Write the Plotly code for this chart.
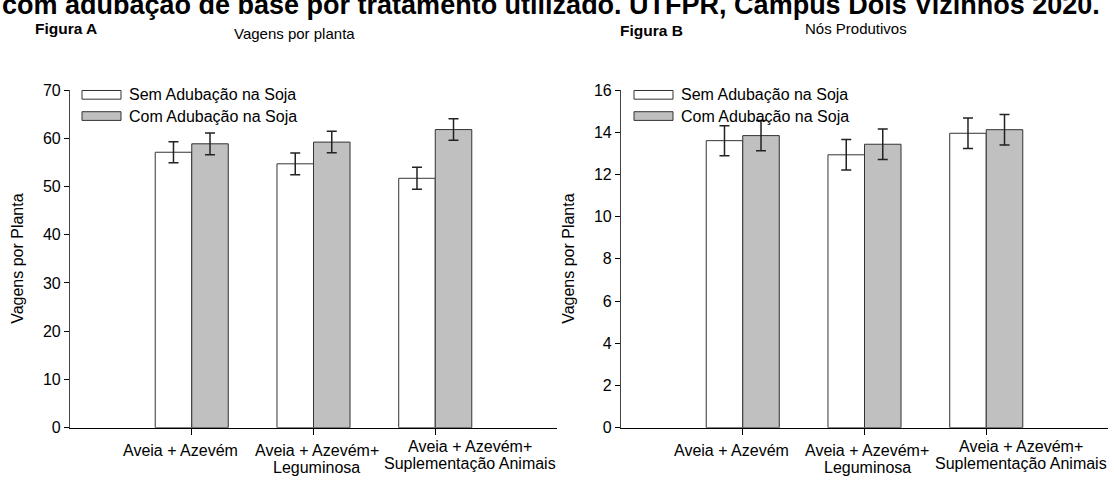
import plotly.graph_objects as go

# ---------------- data ----------------
cat_pos = [1, 2, 3]
label_lines = [["Aveia + Azevém"],
               ["Aveia + Azevém+", "Leguminosa"],
               ["Aveia + Azevém+", "Suplementação Animais"]]
series_names = ["Sem Adubação na Soja", "Com Adubação na Soja"]

vagens_sem = [57.1, 54.7, 51.7]
vagens_sem_err = [2.2, 2.25, 2.27]
vagens_com = [58.85, 59.2, 61.8]
vagens_com_err = [2.25, 2.23, 2.23]

nos_sem = [13.6, 12.93, 13.95]
nos_sem_err = [0.71, 0.72, 0.72]
nos_com = [13.84, 13.43, 14.12]
nos_com_err = [0.72, 0.72, 0.72]

yticks_a = [0, 10, 20, 30, 40, 50, 60, 70]
yticks_b = [0, 2, 4, 6, 8, 10, 12, 14, 16]

title_text = "com adubação de base por tratamento utilizado. UTFPR, Campus Dois Vizinhos 2020."

# ---------------- layout helpers ----------------
W, H = 1114, 483
def px(x):
    return x / W
def py(y):
    return 1 - y / H

FONT = "Liberation Sans, Arial, sans-serif"
fills = ["#ffffff", "#c0c0c0"]
edge = "#333333"

fig = go.Figure()

panels = [
    (vagens_sem, vagens_sem_err, vagens_com, vagens_com_err, "x", "y"),
    (nos_sem, nos_sem_err, nos_com, nos_com_err, "x2", "y2"),
]
for sem, sem_e, com, com_e, xa, ya in panels:
    for vals, errs, fill, name in [(sem, sem_e, fills[0], series_names[0]),
                                   (com, com_e, fills[1], series_names[1])]:
        fig.add_trace(go.Bar(
            x=cat_pos, y=vals, name=name, xaxis=xa, yaxis=ya,
            marker=dict(color=fill, line=dict(color=edge, width=1)),
            error_y=dict(type="data", array=errs, color="#222222",
                         thickness=1.5, width=5),
            showlegend=False,
        ))

x_dom_a = [px(70), px(557)]
x_dom_b = [px(621), px(1108)]
y_dom = [py(435), py(85)]

axis_common = dict(showline=True, linecolor="#000000", linewidth=1.2,
                   ticks="outside", tickcolor="#000000", showgrid=False,
                   zeroline=False, tickfont=dict(family=FONT, size=16, color="#000"))

fig.update_layout(
    width=W, height=H,
    margin=dict(l=0, r=0, t=0, b=0),
    paper_bgcolor="white", plot_bgcolor="white",
    barmode="group", bargap=0.4, bargroupgap=0,
    showlegend=False,
    font=dict(family=FONT, color="#000"),
    xaxis=dict(domain=x_dom_a, range=[0, 4], tickvals=cat_pos,
               ticktext=["", "", ""], ticklen=6, anchor="y", **axis_common),
    yaxis=dict(domain=y_dom, range=[0, 70], tickvals=yticks_a, ticklen=5,
               anchor="x", **{**axis_common, "linecolor": "#444444"}),
    xaxis2=dict(domain=x_dom_b, range=[0, 4], tickvals=cat_pos,
                ticktext=["", "", ""], ticklen=6, anchor="y2", **axis_common),
    yaxis2=dict(domain=y_dom, range=[0, 16], tickvals=yticks_b, ticklen=5,
                anchor="x2", **{**axis_common, "linecolor": "#444444"}),
)

ann = []
shapes = []

# category labels under each panel
label_shift = [-11, 3, 35]
for xref in ["x", "x2"]:
    for i, lines in enumerate(label_lines):
        top = 450 if len(lines) == 1 or i == 1 else 446
        for j, line in enumerate(lines):
            ann.append(dict(x=cat_pos[i], xref=xref, y=py(top + 9 + j * 17), yref="paper",
                            text=line, showarrow=False, xanchor="center", yanchor="middle",
                            xshift=label_shift[i], font=dict(family=FONT, size=16)))

# legends
for x0 in [82, 634]:
    for k, (name, fill) in enumerate(zip(series_names, fills)):
        yc = 90 + k * 22
        shapes.append(dict(type="rect", xref="paper", yref="paper",
                           x0=px(x0), x1=px(x0 + 39), y0=py(yc + 4.5), y1=py(yc - 4.5),
                           fillcolor=fill, line=dict(color=edge, width=1)))
        ann.append(dict(x=px(x0 + 45), y=py(yc), xref="paper", yref="paper",
                        text=name, showarrow=False, xanchor="left", yanchor="middle",
                        font=dict(family=FONT, size=16)))

# y axis titles
for xc in [18, 569]:
    ann.append(dict(x=px(xc), y=py(260), xref="paper", yref="paper",
                    text="Vagens por Planta", textangle=-90, showarrow=False,
                    xanchor="center", yanchor="middle", font=dict(family=FONT, size=16)))

# headings
heads = [("<b>Figura A</b>", 66, 21, 15.5), ("Vagens por planta", 294, 26, 15),
         ("<b>Figura B</b>", 651, 23, 15.5), ("Nós Produtivos", 856, 21, 15)]
for t, xc, yc, fs in heads:
    ann.append(dict(x=px(xc), y=py(yc), xref="paper", yref="paper", text=t,
                    showarrow=False, xanchor="center", yanchor="middle",
                    font=dict(family=FONT, size=fs)))

# cut-off main title at very top
ann.append(dict(x=px(0), y=py(15), xref="paper", yref="paper", text="<b>" + title_text + "</b>",
                showarrow=False, xanchor="left", yanchor="bottom",
                font=dict(family=FONT, size=27)))

fig.update_layout(annotations=ann, shapes=shapes)
fig.write_html("out.html")
